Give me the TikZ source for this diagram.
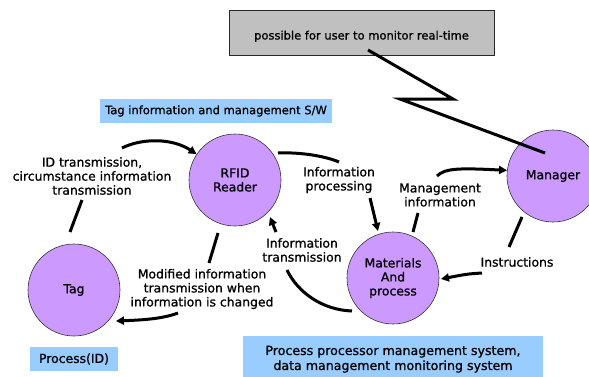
\documentclass[tikz,border=0pt]{standalone}
\usepackage{fontspec}
\setmainfont{DejaVu Sans}[FakeBold=0.9]
\usetikzlibrary{arrows.meta,calc}
\definecolor{lav}{HTML}{CC99FF}
\definecolor{skyb}{HTML}{99CCFF}
\definecolor{greyb}{HTML}{C0C0C0}
\begin{document}
\begin{tikzpicture}[x=1pt,y=-1pt,
  every node/.style={font=\fontsize{12.4}{14}\selectfont, align=center, inner sep=0pt},
  small/.style={font=\fontsize{11.5}{14}\selectfont},
  ent/.style={circle, draw=black!80, line width=0.6pt, fill=lav, minimum size=92pt},
  bluebox/.style={fill=skyb, minimum height=24pt},
  conn/.style={line width=3pt},
  arr/.style={conn, -{Triangle[length=8pt,width=8pt]}},
]
\useasboundingbox (0,0) rectangle (589,376);
\begin{scope}
\clip (0,0) rectangle (589,376);
% boxes
\node[draw=black!85, fill=greyb, line width=0.8pt, minimum width=265pt, minimum height=45pt, small, text height=14pt, text depth=0pt] (mon) at (361.5,32.5) {possible for user to monitor real-time};
\node[bluebox, minimum width=232pt, small] (sw) at (216,111) {Tag information and management S/W};
\node[bluebox, minimum width=88pt] (pid) at (74,359) {Process(ID)};
\node[fill=skyb, minimum width=300pt, minimum height=46pt, anchor=north, font=\fontsize{12.6}{15}\selectfont] (pms) at (393,336) {Process processor management system,\\data management monitoring system};
% entities
\node[ent] (tag) at (74,290) {Tag};
\node[ent] (rfid) at (235,180) {RFID\\Reader};
\node[ent] (mat) at (393,278) {Materials\\And\\process};
\node[ent] (mgr) at (553,176) {Manager};
% labels
\node (l1) at (92,176) {ID transmission,\\circumstance information\\transmission};
\node (l2) at (202,289) {Modified information\\transmission when\\information is changed};
\node (l3) at (339,180) {Information\\processing};
\node (l4) at (440,195) {Management\\information};
\node (l5) at (302,250) {Information\\transmission};
\node (l6) at (517,262) {Instructions};
% zigzag
\coordinate (z1) at (453,99);
\coordinate (z2) at (400,99);
\coordinate (zend) at ($(mgr)+(-8,-23)$);
\draw[conn] ($(mon)+(6.5,17.5)$) -- (z1) -- (z2) -- (zend);
% Tag -> RFID
\draw[conn] ($(tag)+(-4,-58)$) -- ($(l1)+(-10,24)$);
\draw[arr] ($(l1)+(30,-28)$) .. controls ($(l1)+(50,-38)$) and ($(l1)+(80,-38)$) .. (rfid.146);
% RFID -> Tag
\draw[conn] ($(rfid)+(-17,53)$) -- ($(l2)+(7,-26)$);
\draw[arr] ($(l2)+(-24,24)$) .. controls ($(l2)+(-40,30)$) and ($(l2)+(-60,31)$) .. ($(tag)+(42,31)$);
% RFID -> Materials
\draw[conn] ($(rfid)+(43,-27)$) .. controls ($(rfid)+(65,-28)$) and ($(rfid)+(90,-24)$) .. ($(l3)+(0,-18)$);
\draw[arr] ($(l3)+(31,18)$) -- ($(mat)+(-15,-47)$);
% Materials -> RFID
\draw[conn] ($(mat)+(-41,33)$) .. controls ($(mat)+(-70,32)$) and ($(mat)+(-95,15)$) .. ($(l5)+(-15,20)$);
\draw[arr] ($(l5)+(-26,-18)$) -- ($(rfid)+(35,37)$);
% Materials -> Manager
\draw[conn] ($(mat)+(20,-46)$) -- ($(l4)+(-22,18)$);
\draw[arr] ($(l4)+(-3,-19)$) .. controls ($(l4)+(5,-27)$) and ($(l4)+(20,-27)$) .. (mgr.173);
% Manager -> Materials
\draw[conn] ($(mgr)+(-31,41)$) -- ($(l6)+(-8,-15)$);
\draw[arr] ($(l6)+(-35,11)$) .. controls ($(l6)+(-50,12)$) .. ($(mat)+(48,1)$);
\end{scope}
\end{tikzpicture}
\end{document}
